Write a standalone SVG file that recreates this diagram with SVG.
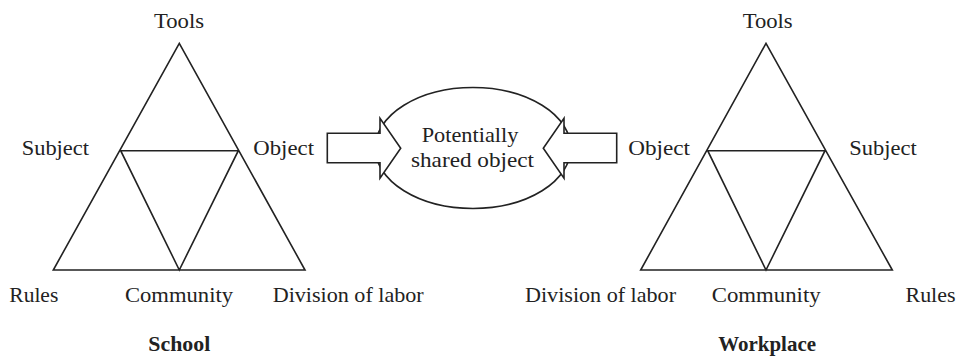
<svg xmlns="http://www.w3.org/2000/svg" width="959" height="356" viewBox="0 0 959 356">
<style>
.ln{fill:none;stroke:#222;stroke-width:1.6;stroke-linejoin:miter}
.ar{fill:#fff;stroke:#222;stroke-width:1.6}
text{font-family:'Liberation Serif',serif;font-size:21px;fill:#222}
.b{font-weight:bold}
</style>
<rect width="959" height="356" fill="#fff"/>
<g id="school">
<path class="ln" d="M179.3,43.3 L53.3,270 L305,270 Z M120.7,150.7 L238.3,150.7 L179.3,270 Z"/>
<text x="154" y="28.3" textLength="50" lengthAdjust="spacingAndGlyphs">Tools</text>
<text x="21.7" y="155" textLength="67.3" lengthAdjust="spacingAndGlyphs">Subject</text>
<text x="253.3" y="155" textLength="60.7" lengthAdjust="spacingAndGlyphs">Object</text>
<text x="9.3" y="302" textLength="49" lengthAdjust="spacingAndGlyphs">Rules</text>
<text x="125" y="302" textLength="108" lengthAdjust="spacingAndGlyphs">Community</text>
<text x="272.7" y="302" textLength="151" lengthAdjust="spacingAndGlyphs">Division of labor</text>
<text class="b" x="148.3" y="350.7" textLength="62" lengthAdjust="spacingAndGlyphs">School</text>
</g>
<g id="shared">
<ellipse class="ln" cx="473" cy="148" rx="97.7" ry="60.5"/>
<text x="421.7" y="141.7" textLength="96.7" lengthAdjust="spacingAndGlyphs">Potentially</text>
<text x="411" y="167" textLength="123" lengthAdjust="spacingAndGlyphs">shared object</text>
</g>
<g id="connectors">
<path class="ar" d="M327.3,133.3 L380,133.3 L380,118.3 L400.7,148.3 L380,178.3 L380,162.7 L327.3,162.7 Z"/>
<path class="ar" d="M616.7,133.3 L564,133.3 L564,118.3 L543.3,148.3 L564,178.3 L564,162.7 L616.7,162.7 Z"/>
</g>
<g id="workplace">
<path class="ln" d="M766,43.3 L640.7,270 L892.3,270 Z M707.7,150.7 L825,150.7 L766,270 Z"/>
<text x="742.7" y="28.3" textLength="50" lengthAdjust="spacingAndGlyphs">Tools</text>
<text x="628.3" y="155" textLength="61.7" lengthAdjust="spacingAndGlyphs">Object</text>
<text x="849.3" y="155" textLength="67.4" lengthAdjust="spacingAndGlyphs">Subject</text>
<text x="525" y="302" textLength="151" lengthAdjust="spacingAndGlyphs">Division of labor</text>
<text x="711.7" y="302" textLength="109" lengthAdjust="spacingAndGlyphs">Community</text>
<text x="905.5" y="302" textLength="50" lengthAdjust="spacingAndGlyphs">Rules</text>
<text class="b" x="718.3" y="350.7" textLength="97.7" lengthAdjust="spacingAndGlyphs">Workplace</text>
</g>
</svg>
